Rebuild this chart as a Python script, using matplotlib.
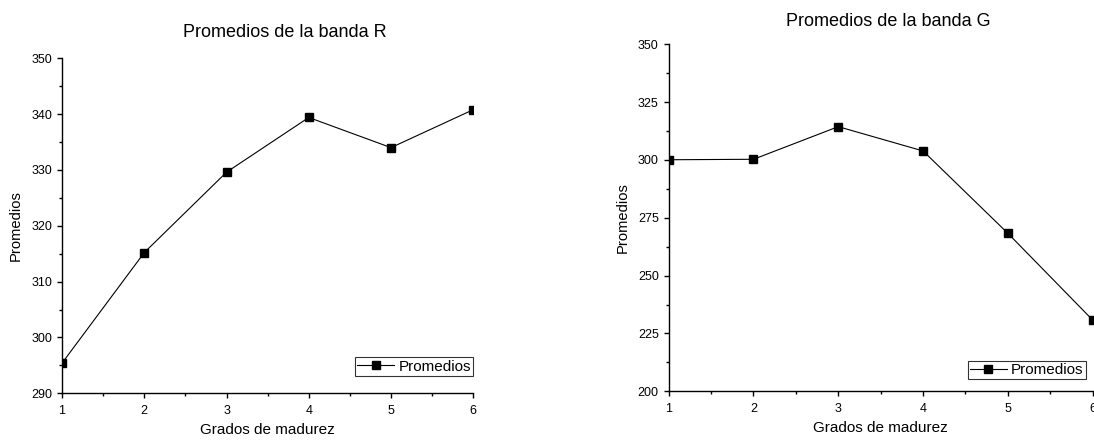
import numpy as np
import matplotlib.pyplot as plt
from matplotlib.ticker import MultipleLocator

plt.rcParams['font.family'] = ['Liberation Sans', 'DejaVu Sans']

grados = [1, 2, 3, 4, 5, 6]
prom_r = [295.4, 315.2, 329.6, 339.4, 334.0, 340.8]
prom_g = [300.1, 300.3, 314.4, 303.9, 268.3, 230.8]

fig = plt.figure(figsize=(10.94, 4.41), dpi=100)
ax1 = fig.add_axes([0.0567, 0.1082, 0.3759, 0.7596])
ax2 = fig.add_axes([0.6112, 0.1127, 0.3876, 0.7868])


def style_axis(ax, data, title, title_x, title_pad, ylim, ymajor, legend_anchor):
    ax.plot(grados, data, color='black', linewidth=0.8, marker='s',
            markersize=5.2, label='Promedios')
    ax.set_xlim(1, 6)
    ax.set_ylim(*ylim)
    ax.xaxis.set_major_locator(MultipleLocator(1))
    ax.xaxis.set_minor_locator(MultipleLocator(0.5))
    ax.yaxis.set_major_locator(MultipleLocator(ymajor))
    ax.yaxis.set_minor_locator(MultipleLocator(ymajor / 2))
    for s in ['top', 'right']:
        ax.spines[s].set_visible(False)
    for s in ['left', 'bottom']:
        ax.spines[s].set_linewidth(1.0)
    ax.tick_params(which='major', direction='out', length=3.6, width=1.0,
                   labelsize=9)
    ax.tick_params(which='minor', direction='out', length=2.2, width=1.0)
    ax.tick_params(axis='x', pad=4.5)
    ax.tick_params(axis='y', pad=3.5)
    ax.set_title(title, fontsize=13, pad=title_pad, x=title_x)
    ax.set_xlabel('Grados de madurez', fontsize=11, labelpad=5)
    ax.set_ylabel('Promedios', fontsize=10.6, labelpad=6)
    leg = ax.legend(loc='lower right', bbox_to_anchor=legend_anchor,
                    fontsize=11, frameon=True, fancybox=False,
                    borderpad=0.15, handlelength=2.4, handletextpad=0.3,
                    borderaxespad=0)
    leg.get_frame().set_edgecolor('black')
    leg.get_frame().set_linewidth(0.8)


style_axis(ax1, prom_r, 'Promedios de la banda R', 0.542, 15, (290, 350), 10, (1.0, 0.052))
style_axis(ax2, prom_g, 'Promedios de la banda G', 0.519, 13, (200, 350), 25, (0.984, 0.035))

plt.savefig('out.png', dpi=100)
